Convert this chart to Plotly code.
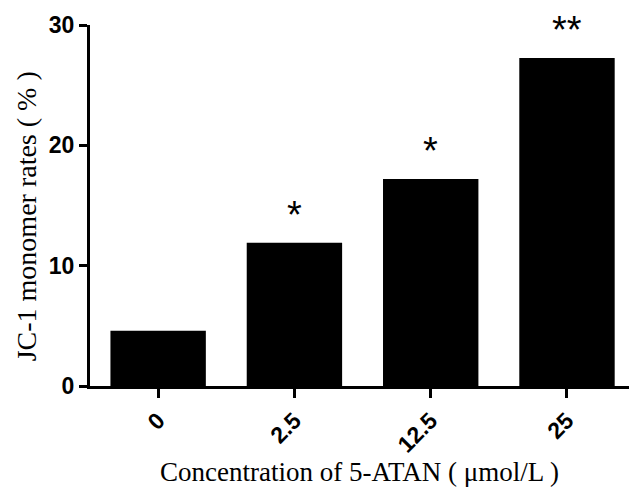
import plotly.graph_objects as go

categories = ["0", "2.5", "12.5", "25"]
values = [4.6, 11.9, 17.2, 27.25]
marks = ["", "*", "*", "**"]
y_ticks = [0, 10, 20, 30]
x_title = "Concentration of 5-ATAN ( μmol/L )"
y_title = "JC-1 monomer rates ( % )"

fig = go.Figure()
fig.add_trace(go.Bar(
    x=categories, y=values,
    marker=dict(color="black", line=dict(color="black", width=0)),
    width=0.7,
))

for i, (v, m) in enumerate(zip(values, marks)):
    if m:
        fig.add_annotation(x=i, y=v, text=m, showarrow=False, yanchor="bottom",
                           yshift=5, font=dict(family="Liberation Sans", size=38, color="black"))

fig.add_annotation(xref="paper", yref="paper", x=0, y=0.47, xshift=-64,
                   xanchor="center", yanchor="middle", textangle=-90, showarrow=False,
                   text=y_title, font=dict(family="Liberation Serif", size=28, color="black"))

fig.update_layout(
    width=629, height=489,
    margin=dict(l=90, r=0, t=25, b=103),
    plot_bgcolor="white", paper_bgcolor="white",
    showlegend=False,
    xaxis=dict(
        type="category", range=[-0.5, 3.455], automargin=False,
        showline=True, linecolor="black", linewidth=3,
        ticks="outside", ticklen=9, tickwidth=3, tickcolor="black",
        tickangle=-45,
        tickfont=dict(family="Liberation Sans", size=23, color="black", weight="bold"),
        title=dict(text=x_title,
                   font=dict(family="Liberation Serif", size=27, color="black"), standoff=0),
        showgrid=False, zeroline=False,
    ),
    yaxis=dict(
        range=[0, 30], tickvals=y_ticks, automargin=False,
        showline=True, linecolor="black", linewidth=3,
        ticks="outside", ticklen=8, tickwidth=3, tickcolor="black",
        tickfont=dict(family="Liberation Sans", size=23, color="black", weight="bold"),
        showgrid=False, zeroline=False,
    ),
)

fig.write_html("out.html", config={"displayModeBar": False},
               post_script="document.body.style.margin='0';document.body.style.overflow='hidden';")
